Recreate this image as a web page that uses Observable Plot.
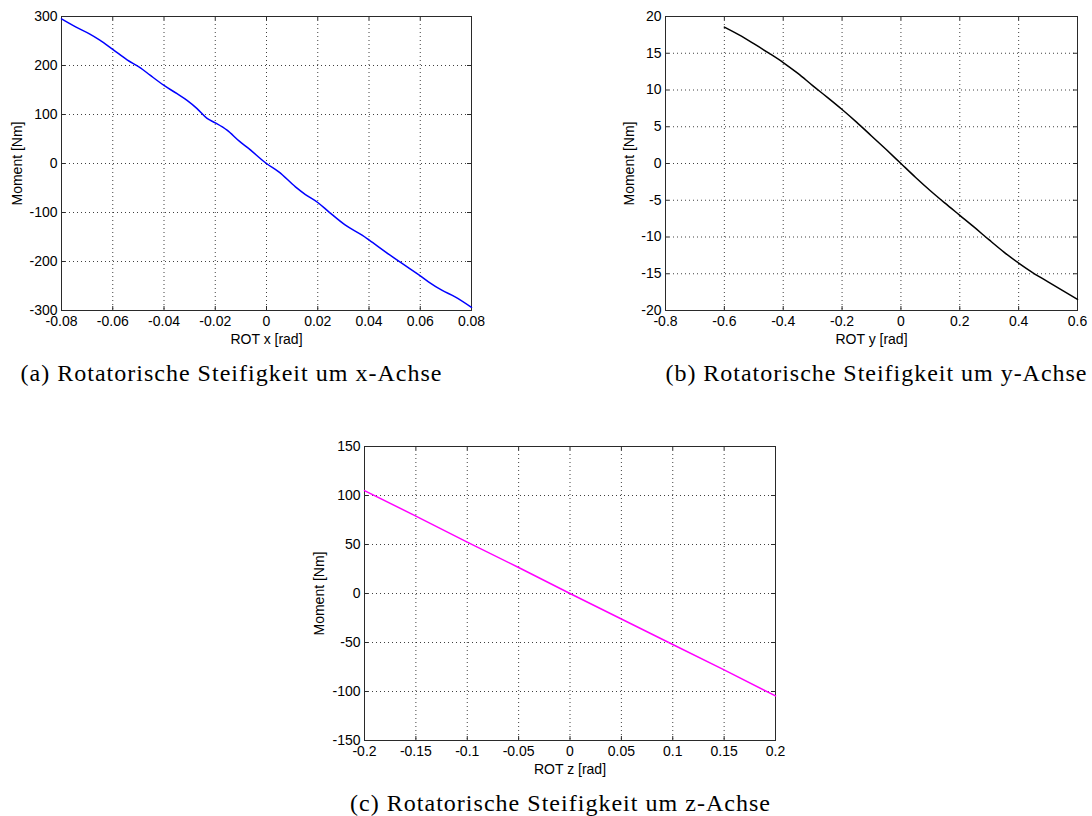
<!DOCTYPE html>
<html><head><meta charset="utf-8">
<script src="https://cdn.jsdelivr.net/npm/d3@7"></script>
<script src="https://cdn.jsdelivr.net/npm/@observablehq/plot@0.6"></script>
<style>
html,body{margin:0;padding:0;background:#fff;}
body{width:1092px;height:816px;position:relative;overflow:hidden;}
.panel{position:absolute;}
.panel svg{background:transparent !important;}
.cap{position:absolute;font-family:"Liberation Serif","Times New Roman",serif;font-size:24px;line-height:24px;white-space:nowrap;color:#000;}
</style></head><body>
<div id="pa" class="panel" style="left:0;top:0"></div>
<div id="pb" class="panel" style="left:600px;top:0"></div>
<div id="pc" class="panel" style="left:300px;top:420px"></div>
<div id="capa" class="cap"></div>
<div id="capb" class="cap"></div>
<div id="capc" class="cap"></div>
<script>
// ---- data (a): rotation about x ----
const rotX = [-0.08,-0.0743,-0.0691,-0.0652,-0.06,-0.0544,-0.0492,-0.0453,-0.04,-0.0349,-0.031,-0.0271,-0.0232,-0.02,-0.0154,-0.0105,-0.0075,0,0.0048,0.0113,0.0152,0.02,0.0243,0.0308,0.0373,0.0401,0.0464,0.0529,0.06,0.0632,0.0684,0.0736,0.08];
const momX = [295,278.2,264.5,252.3,233,211.5,195.3,179.7,159.3,142.4,128.8,112,92,83,68,45,33,0,-17,-47.6,-63.3,-79.6,-98.6,-125.9,-146.3,-156.5,-180.3,-204,-229.3,-241.5,-258.5,-272.1,-293.5];
const xTicksA = [-0.08,-0.06,-0.04,-0.02,0,0.02,0.04,0.06,0.08];
const yTicksA = [-300,-200,-100,0,100,200,300];

// ---- data (b): rotation about y ----
const rotY = [-0.6,-0.55,-0.5,-0.45,-0.4,-0.35,-0.3,-0.25,-0.2,-0.15,-0.1,-0.05,0,0.05,0.1,0.15,0.2,0.25,0.3,0.35,0.4,0.45,0.5,0.55,0.6];
const momY = [18.56,17.5,16.3,15.05,13.74,12.25,10.6,9.0,7.35,5.6,3.75,1.9,0,-1.9,-3.7,-5.4,-7.05,-8.7,-10.4,-12.05,-13.55,-14.9,-16.1,-17.3,-18.5];
const xTicksB = [-0.8,-0.6,-0.4,-0.2,0,0.2,0.4,0.6];
const yTicksB = [-20,-15,-10,-5,0,5,10,15,20];

// ---- data (c): rotation about z ----
const rotZ = [-0.2,-0.15,-0.1,-0.05,0,0.05,0.1,0.15,0.2];
const momZ = [105,79,52.5,26.5,0,-26,-52,-78,-104.5];
const xTicksC = [-0.2,-0.15,-0.1,-0.05,0,0.05,0.1,0.15,0.2];
const yTicksC = [-150,-100,-50,0,50,100,150];

const labelsX = ["ROT x [rad]","ROT y [rad]","ROT z [rad]"];
const labelY = "Moment [Nm]";
const captions = ["(a) Rotatorische Steifigkeit um x-Achse","(b) Rotatorische Steifigkeit um y-Achse","(c) Rotatorische Steifigkeit um z-Achse"];

function panel(o){
  const fh = o.height - o.mt - o.mb;
  const fw = o.width - o.ml - o.mr;
  const data = o.xs.map((x,i)=>({x, y:o.ys[i]}));
  const fmt = d => String(d);
  const axisColor = "#2a2a2a";
  const fs = 14;
  return Plot.plot({
    width:o.width, height:o.height,
    marginLeft:o.ml, marginRight:o.mr, marginTop:o.mt, marginBottom:o.mb,
    style:{fontFamily:"'Liberation Sans', Arial, Helvetica, sans-serif", fontSize:fs+"px", color:"#000", background:"transparent"},
    x:{domain:o.xDomain, nice:false},
    y:{domain:o.yDomain, nice:false},
    marks:[
      Plot.gridX(o.xTicks,{stroke:"#000", strokeOpacity:0.75, strokeDasharray:"1,3"}),
      Plot.gridY(o.yTicks,{stroke:"#000", strokeOpacity:0.75, strokeDasharray:"1,3"}),
      Plot.tickX(o.xTicks,{x:d=>d, insetTop:fh-4, stroke:axisColor}),
      Plot.tickX(o.xTicks,{x:d=>d, insetBottom:fh-4, stroke:axisColor}),
      Plot.tickY(o.yTicks,{y:d=>d, insetRight:fw-4, stroke:axisColor}),
      Plot.tickY(o.yTicks,{y:d=>d, insetLeft:fw-4, stroke:axisColor}),
      Plot.frame({stroke:axisColor, strokeWidth:1}),
      Plot.axisX({ticks:o.xTicks, tickFormat:fmt, tickSize:0, tickPadding:6, label:null, fontSize:fs}),
      Plot.axisY({ticks:o.yTicks, tickFormat:fmt, tickSize:0, tickPadding:4, label:null, fontSize:fs}),
      Plot.line(data,{x:"x", y:"y", stroke:o.color, strokeWidth:1.5, curve:o.curve || "linear"}),
      Plot.text([o.xLabel],{frameAnchor:"bottom", dy:29, lineAnchor:"middle", textAnchor:"middle", fontSize:fs}),
      Plot.text([labelY],{frameAnchor:"left", dx:-o.ylabOff, rotate:-90, textAnchor:"middle", lineAnchor:"middle", fontSize:fs})
    ]
  });
}

document.getElementById("pa").appendChild(panel({
  width:500, height:350, ml:61, mr:29, mt:16, mb:40,
  xs:rotX, ys:momX, xDomain:[-0.08,0.08], yDomain:[-300,300],
  xTicks:xTicksA, yTicks:yTicksA, color:"#0000ff", xLabel:labelsX[0], ylabOff:44, curve:"monotone-x"
}));
document.getElementById("pb").appendChild(panel({
  width:492, height:350, ml:65, mr:15, mt:16, mb:40,
  xs:rotY, ys:momY, xDomain:[-0.8,0.6], yDomain:[-20,20],
  xTicks:xTicksB, yTicks:yTicksB, color:"#000000", xLabel:labelsX[1], ylabOff:36, curve:"monotone-x"
}));
document.getElementById("pc").appendChild(panel({
  width:500, height:360, ml:64, mr:25, mt:26, mb:40,
  xs:rotZ, ys:momZ, xDomain:[-0.2,0.2], yDomain:[-150,150],
  xTicks:xTicksC, yTicks:yTicksC, color:"#ff00ff", xLabel:labelsX[2], ylabOff:45
}));

// captions: fit to target width by letter spacing
function caption(id, text, cx, baseline, targetW){
  const el = document.getElementById(id);
  el.textContent = text;
  const w = el.getBoundingClientRect().width;
  const ls = (targetW - w) / (text.length - 1);
  el.style.letterSpacing = ls + "px";
  const w2 = el.getBoundingClientRect().width - ls;
  el.style.left = (cx - w2/2) + "px";
  el.style.top = (baseline - 20.1) + "px";
}
caption("capa", captions[0], 231, 381, 421);
caption("capb", captions[1], 876, 381, 421);
caption("capc", captions[2], 560, 811, 420);
</script>
</body></html>
